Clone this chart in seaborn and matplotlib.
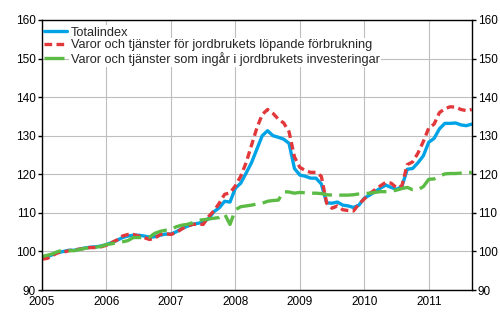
import numpy as np
import pandas as pd
import matplotlib
matplotlib.use("Agg")
import matplotlib.pyplot as plt
import seaborn as sns

# ---- data (monthly, Jan 2005 - Sep 2011) ----
start = "2005-01"
totalindex = [98.3, 98.6, 99.2, 99.7, 100.0, 100.3, 100.3, 100.6, 100.9, 101.1, 101.2, 101.4,
              101.8, 102.3, 102.9, 103.6, 104.0, 104.2, 104.2, 104.0, 103.7, 103.8, 104.2, 104.5,
              104.5, 105.1, 105.9, 106.5, 107.0, 107.3, 107.5, 108.5, 110.3, 111.3, 113.0, 112.8,
              116.4, 117.7, 120.3, 123.0, 126.5, 130.0, 131.3, 130.0, 129.6, 129.1, 128.0, 121.5,
              119.8, 119.5, 119.0, 119.0, 117.5, 112.6, 112.5, 112.8, 112.0, 111.8, 111.4, 112.0,
              113.8, 114.6, 115.5, 116.4, 117.2, 116.6, 116.1, 116.8, 121.3, 121.5, 123.0, 124.8,
              128.3, 129.3, 131.8, 133.2, 133.2, 133.3, 132.8, 132.6, 133.0]
lopande = [98.0, 98.2, 99.0, 99.7, 99.8, 100.2, 100.4, 100.6, 100.8, 101.0, 101.0, 101.2,
           101.6, 102.3, 103.0, 104.0, 104.4, 104.4, 104.0, 103.6, 103.1, 103.4, 104.4, 104.6,
           104.4, 104.9, 105.8, 106.6, 107.0, 107.1, 107.0, 109.0, 110.5, 112.5, 114.8, 115.2,
           117.0, 119.5, 123.0, 127.5, 132.0, 135.5, 136.8, 135.8, 134.3, 133.3, 131.0, 124.5,
           121.8, 121.0, 120.5, 120.5, 119.5, 112.5, 111.2, 111.8, 110.8, 110.6, 110.5, 112.3,
           113.6, 115.0, 116.0, 117.0, 117.9, 117.7, 116.5, 117.0, 122.5, 123.2, 125.5, 128.5,
           132.0, 133.0, 136.0, 137.0, 137.5, 137.4, 136.8, 136.5, 136.8]
investering = [98.7, 99.0, 99.4, 100.0, 100.3, 100.2, 100.2, 100.5, 100.8, 101.0, 101.1, 101.3,
               101.8, 102.0, 102.3, 102.5, 102.8, 103.6, 103.6, 103.6, 103.7, 104.7, 105.2, 105.5,
               105.7, 106.4, 106.8, 107.0, 107.4, 108.1, 108.2, 108.4, 108.6, 108.8, 109.7, 107.0,
               110.8, 111.6, 111.8, 112.0, 112.3, 112.5, 113.0, 113.2, 113.3, 115.5, 115.4, 115.1,
               115.3, 115.2, 115.1, 115.1, 115.0, 114.7, 114.6, 114.6, 114.6, 114.6, 114.7, 114.9,
               115.0, 115.1, 115.3, 115.5, 115.5, 115.6, 115.9, 116.3, 116.6, 116.0, 116.0, 116.8,
               118.7, 118.8, 119.5, 120.1, 120.2, 120.2, 120.3, 120.4, 120.5]
series_names = ["Totalindex",
                "Varor och tjänster för jordbrukets löpande förbrukning",
                "Varor och tjänster som ingår i jordbrukets investeringar"]
year_ticks = [2005, 2006, 2007, 2008, 2009, 2010, 2011]
y_ticks = [90, 100, 110, 120, 130, 140, 150, 160]

periods = pd.period_range(start, periods=len(totalindex), freq="M")
t = periods.year + (periods.month - 1) / 12.0
df = pd.DataFrame({"t": t, series_names[0]: totalindex,
                   series_names[1]: lopande, series_names[2]: investering})

sns.set_style("white")
plt.rcParams["font.family"] = ["Liberation Sans", "DejaVu Sans"]
plt.rcParams["font.size"] = 8.5

fig = plt.figure(figsize=(5, 3.3), dpi=100)
ax = fig.add_axes([0.084, 0.1212, 0.8594, 0.8182])

colors = ["#00A3E6", "#E2383B", "#5CBB45"]
dash_styles = [None, (2.3, 1.3), (6.0, 2.2)]
lw = 2.4
for name, c, d in zip(series_names, colors, dash_styles):
    sns.lineplot(data=df, x="t", y=name, ax=ax, color=c, linewidth=lw,
                 label=name, legend=False)
    ln = ax.lines[-1]
    if d is not None:
        ln.set_dashes(d)
        ln.set_dash_capstyle("butt")

ax.set_xlim(t[0], t[-1])
ax.set_ylim(90, 160)
ax.set_xticks(year_ticks)
ax.set_xticklabels([str(y) for y in year_ticks])
ax.set_yticks(y_ticks)
ax.set_xlabel("")
ax.set_ylabel("")
ax.grid(True, color="#BEBEBE", linewidth=0.8)
ax.set_axisbelow(True)
for s in ax.spines.values():
    s.set_color("black")
    s.set_linewidth(1.0)
    s.set_visible(True)
ax.tick_params(axis="y", which="both", left=True, right=True, labelleft=True,
               labelright=True, direction="out", length=3, width=1, pad=1.5,
               labelsize=8.5, colors="black")
ax.tick_params(axis="x", length=0, pad=4, labelsize=8.5, colors="black")

leg = ax.legend(loc="upper left", bbox_to_anchor=(0.004, 0.975), frameon=False,
                fontsize=9.2, handlelength=1.8, handletextpad=0.3, labelspacing=0.05,
                borderaxespad=0.0, borderpad=0.0)
for txt in leg.get_texts():
    txt.set_bbox(dict(facecolor="white", edgecolor="none", pad=1.0))

fig.savefig("out.png", dpi=100)
